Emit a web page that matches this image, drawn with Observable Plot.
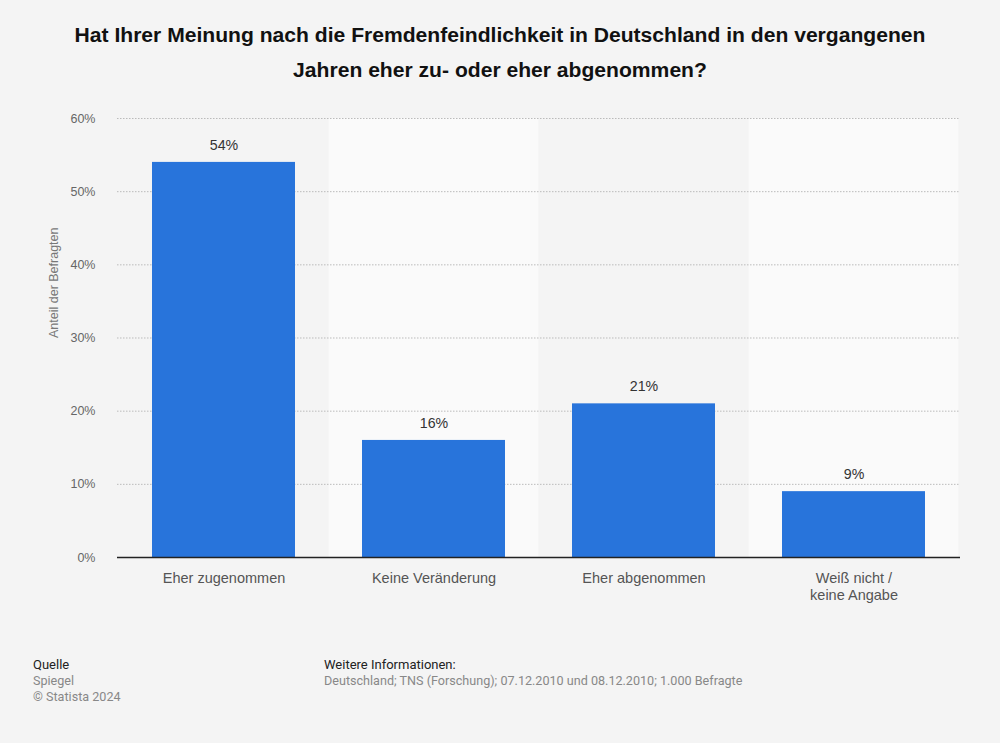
<!DOCTYPE html>
<html>
<head>
<meta charset="utf-8">
<script src="https://cdn.jsdelivr.net/npm/d3@7"></script>
<script src="https://cdn.jsdelivr.net/npm/@observablehq/plot@0.6"></script>
<style>
  html, body { margin: 0; padding: 0; background: #f4f4f4; width: 1000px; height: 743px; overflow: hidden; font-family: "Liberation Sans", Arial, sans-serif; }
  #title { position: absolute; top: 17px; left: 0; width: 1000px; text-align: center; font-weight: bold; font-size: 21.1px; line-height: 35px; color: #111; }
  #chart { position: absolute; top: 0; left: 0; }
  .foot { position: absolute; font-family: Roboto, "Liberation Sans", sans-serif; font-size: 12.6px; line-height: 16px; color: #888; }
  .foot b { font-weight: normal; color: #222; font-size: 13px; }
</style>
</head>
<body>
<div id="title">Hat Ihrer Meinung nach die Fremdenfeindlichkeit in Deutschland in den vergangenen<br>Jahren eher zu- oder eher abgenommen?</div>
<div id="chart"></div>
<div class="foot" style="left:33px; top:657px;"><b>Quelle</b><br>Spiegel<br>© Statista 2024</div>
<div class="foot" style="left:324px; top:657px;"><b>Weitere Informationen:</b><br>Deutschland; TNS (Forschung); 07.12.2010 und 08.12.2010; 1.000 Befragte</div>
<script>
const categories = ["Eher zugenommen", "Keine Veränderung", "Eher abgenommen", "Weiß nicht /\nkeine Angabe"];
const values = [54, 16, 21, 9];
const shadedCategories = ["Keine Veränderung", "Weiß nicht /\nkeine Angabe"];
const yTicks = [0, 10, 20, 30, 40, 50, 60];
const yMax = 60;

const data = categories.map((c, i) => ({category: c, value: values[i]}));
const shaded = shadedCategories.map(c => ({category: c}));

const pInner = 0.317, pOuter = pInner / 2;
const width = 1000, marginLeft = 117, marginRight = 40;
const step = (width - marginLeft - marginRight) / (categories.length - pInner + 2 * pOuter);
const bandInset = -(step * pInner) / 2;

const chart = Plot.plot({
  width: 1000,
  height: 620,
  marginTop: 118,
  marginBottom: 63,
  marginLeft,
  marginRight,
  style: {background: "transparent", fontFamily: "'Liberation Sans', Arial, sans-serif"},
  x: {domain: categories, paddingInner: pInner, paddingOuter: pOuter, label: null},
  y: {domain: [0, yMax], ticks: yTicks, label: null},
  marks: [
    Plot.barY(shaded, {x: "category", y1: 0, y2: yMax, fill: "#fafafa", insetLeft: bandInset, insetRight: bandInset}),
    Plot.gridY(yTicks, {stroke: "#bbb", strokeOpacity: 1, strokeDasharray: "1.5,1.5", strokeWidth: 1}),
    Plot.barY(data, {x: "category", y: "value", fill: "#2874db"}),
    Plot.ruleY([0], {stroke: "#222", strokeWidth: 1.5}),
    Plot.text(data, {x: "category", y: "value", text: d => d.value + "%", dy: -17, fontSize: 14.2, fill: "#333"}),
    Plot.axisY(yTicks, {tickSize: 0, tickPadding: 22, tickFormat: d => d + "%", fontSize: 12.5, fill: "#666", label: null}),
    Plot.axisX({tickSize: 0, tickPadding: 14, fontSize: 14.5, fill: "#555", lineHeight: 1.15, label: null}),
    Plot.text(["Anteil der Befragten"], {frameAnchor: "left", dx: -64, rotate: -90, fontSize: 12.5, fill: "#777"})
  ]
});
document.getElementById("chart").appendChild(chart);
</script>
</body>
</html>
